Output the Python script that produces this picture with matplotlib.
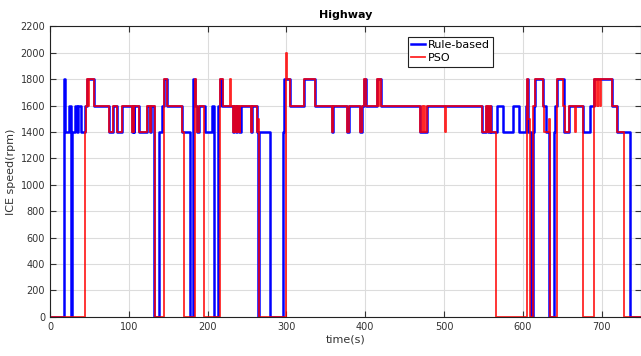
import numpy as np
import matplotlib.pyplot as plt

# step change points (time in s, ICE speed in rpm)
rule_t = [0, 17.5, 18.5, 24.5, 27, 28.5, 31.5, 34, 35, 39.5, 45, 47, 56, 75, 80, 85, 91,
          104, 105, 106, 106.5, 113.5, 123.5, 127, 128, 132.5, 138, 142, 145, 148, 167,
          177.5, 181, 184.5, 187, 189, 196.5, 205, 208.5, 213.5, 215.5, 218.5, 232, 233,
          236, 237, 240, 242, 254.5, 256, 262.5, 263.5, 265.5, 279.5, 295.5, 296.5, 305,
          322, 336.5, 358, 359.5, 377.5, 379.5, 393.5, 396.5, 398, 400.5, 415.5, 420.5,
          470, 478, 548.5, 553, 556, 558, 560, 567, 575.5, 587, 595.5, 603.5, 605.5, 607,
          610, 612.5, 614, 616, 625.5, 629, 633.5, 639, 640.5, 644, 652.5, 658, 676,
          685.5, 690, 713.5, 719, 736.5, 750]
rule_v = [0, 1800, 1400, 1600, 0, 1400, 1600, 1400, 1600, 1400, 1600, 1800, 1600, 1400,
          1600, 1400, 1600, 1400, 1600, 1400, 1600, 1400, 1600, 1400, 1600, 0, 1400, 1600,
          1800, 1600, 1400, 0, 1800, 1600, 1400, 1600, 1400, 1600, 0, 1600, 1800, 1600,
          1400, 1600, 1400, 1600, 1400, 1600, 1400, 1600, 1400, 0, 1400, 0, 1400, 1800,
          1600, 1800, 1600, 1400, 1600, 1400, 1600, 1400, 1600, 1800, 1600, 1800, 1600,
          1400, 1600, 1400, 1600, 1400, 1600, 1400, 1600, 1400, 1600, 1400, 1600, 1800,
          1400, 0, 1400, 1600, 1800, 1600, 1400, 0, 1400, 1600, 1800, 1400, 1600, 1400,
          1600, 1800, 1600, 1400, 0, 0]

pso_t = [0, 44.5, 46, 47, 48, 49, 56, 75, 80, 85, 91, 103.5, 104, 104.5, 105, 105.5, 106,
         113.5, 123.5, 127, 128, 133, 145, 148, 167, 170, 183.5, 185, 187, 189, 195.5,
         216, 219, 228.5, 229.5, 232, 233, 234, 235, 236, 237, 238.5, 239.5, 240.5, 241.5,
         254.5, 256, 262.5, 264, 265.5, 299, 300.5, 305, 322, 336.5, 358, 359.5, 377.5,
         379.5, 393.5, 396.5, 398, 400.5, 415.5, 416.5, 418, 420.5, 470, 472, 473, 475,
         476, 478, 501, 502, 548.5, 553, 555, 556, 557, 558, 560, 566, 605.5, 607, 609,
         613.5, 616, 625.5, 627, 633, 634.5, 644, 651, 653, 658, 666, 668, 677, 690, 692,
         693, 695, 696, 698, 699, 713.5, 719, 728, 750]
pso_v = [0, 1400, 1600, 1800, 1600, 1800, 1600, 1400, 1600, 1400, 1600, 1400, 1600, 1400,
         1600, 1400, 1600, 1400, 1600, 1400, 1600, 0, 1800, 1600, 1400, 0, 1800, 1600,
         1400, 1600, 0, 1800, 1600, 1800, 1600, 1400, 1600, 1400, 1600, 1400, 1600, 1400,
         1600, 1400, 1600, 1400, 1600, 1400, 1500, 0, 2000, 1800, 1600, 1800, 1600, 1400,
         1600, 1400, 1600, 1400, 1600, 1800, 1600, 1800, 1600, 1800, 1600, 1400, 1600,
         1400, 1600, 1400, 1600, 1400, 1600, 1400, 1600, 1400, 1600, 1400, 1600, 1400, 0,
         1800, 1500, 0, 1600, 1800, 1600, 1400, 1500, 0, 1800, 1600, 1400, 1600, 1400,
         1600, 0, 1800, 1600, 1800, 1600, 1800, 1600, 1800, 1600, 1400, 0, 0]

fig = plt.figure(figsize=(6.41, 3.56), dpi=100)
ax = fig.add_axes([0.078, 0.11, 0.922, 0.816])

ax.plot(rule_t, rule_v, drawstyle='steps-post', color='#0000ff', lw=1.8, label='Rule-based')
ax.plot(pso_t, pso_v, drawstyle='steps-post', color='#ff0000', lw=1.3, alpha=0.85, label='PSO')

ax.set_xlim(0, 750)
ax.set_ylim(0, 2200)
ax.set_xticks(np.arange(0, 701, 100))
ax.set_yticks(np.arange(0, 2201, 200))
ax.grid(True, color='#dcdcdc', lw=0.8)
ax.tick_params(direction='in', top=True, right=True, labelsize=7, colors='#333333',
               length=4)
for s in ax.spines.values():
    s.set_color('#222222')
    s.set_linewidth(0.8)

ax.set_title('Highway', fontsize=8, fontweight='bold', pad=6)
ax.set_xlabel('time(s)', fontsize=8, color='#333333', labelpad=2)
ax.set_ylabel('ICE speed(rpm)', fontsize=8, color='#333333', labelpad=3)

leg = ax.legend(loc='upper left', bbox_to_anchor=(0.605, 0.965), fontsize=8,
                fancybox=False, framealpha=1, edgecolor='#222222', handlelength=1.3,
                handletextpad=0.2, borderpad=0.3, labelspacing=0.3, borderaxespad=0)
leg.get_frame().set_linewidth(0.8)

fig.savefig('out.png', dpi=100)
